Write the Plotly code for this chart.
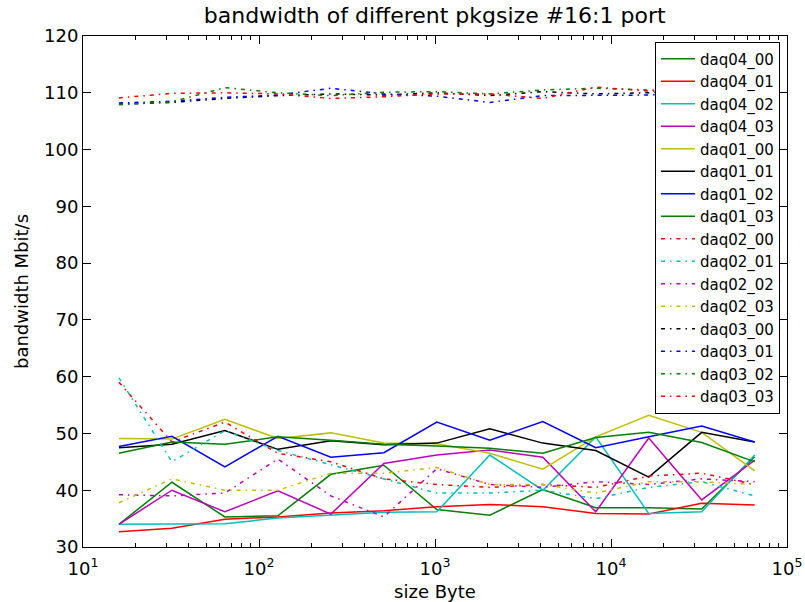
import plotly.graph_objects as go

sizes = [16, 32, 64, 128, 256, 512, 1024, 2048, 4096, 8192, 16384, 32768, 65536]

daq04_00 = [34.0, 41.4, 35.3, 35.5, 42.8, 44.4, 36.6, 35.6, 40.1, 36.9, 36.9, 36.7, 45.9]
daq04_01 = [32.7, 33.3, 34.9, 35.3, 36.0, 36.4, 37.1, 37.5, 37.1, 35.9, 35.8, 37.7, 37.4]
daq04_02 = [34.0, 34.0, 34.1, 35.1, 35.6, 36.1, 36.2, 46.2, 40.0, 49.4, 35.9, 36.2, 46.2]
daq04_03 = [34.0, 40.0, 36.2, 39.9, 35.8, 44.7, 46.2, 47.1, 45.8, 36.2, 49.2, 38.3, 45.3]
daq01_00 = [49.1, 49.0, 52.5, 49.1, 50.1, 48.3, 48.2, 46.5, 43.7, 49.4, 53.2, 50.2, 43.4]
daq01_01 = [47.5, 48.1, 50.5, 47.2, 48.7, 48.0, 48.3, 50.8, 48.3, 47.0, 42.3, 50.2, 48.5]
daq01_02 = [47.7, 49.5, 44.1, 49.5, 45.8, 46.6, 52.0, 48.8, 52.1, 47.5, 49.4, 51.3, 48.5]
daq01_03 = [46.5, 48.5, 48.1, 49.4, 48.8, 48.1, 47.8, 47.4, 46.5, 49.3, 50.2, 48.4, 45.0]
daq02_00 = [59.0, 48.5, 52.0, 46.5, 45.0, 42.0, 41.0, 40.5, 41.0, 40.5, 42.5, 43.0, 41.0]
daq02_01 = [59.8, 45.0, 50.5, 47.0, 44.5, 42.0, 39.5, 39.5, 40.0, 38.5, 40.5, 41.5, 39.0]
daq02_02 = [39.2, 39.0, 39.5, 45.5, 39.0, 35.3, 43.8, 41.0, 40.5, 41.5, 41.0, 42.0, 41.5]
daq02_03 = [37.8, 42.0, 40.0, 40.0, 43.0, 43.0, 44.0, 41.0, 41.0, 39.5, 41.5, 41.5, 41.0]
daq03_00 = [108.0, 108.3, 109.0, 109.5, 109.8, 109.6, 110.0, 109.5, 110.2, 109.8, 110.0, 110.3, 110.0]
daq03_01 = [108.2, 108.5, 109.2, 109.6, 110.8, 109.8, 109.4, 108.3, 109.5, 109.6, 109.6, 110.0, 109.8]
daq03_02 = [107.9, 108.4, 110.9, 110.0, 109.5, 110.1, 110.2, 109.8, 110.5, 110.8, 110.5, 110.2, 110.4]
daq03_03 = [109.1, 109.9, 110.0, 109.8, 109.0, 109.3, 109.8, 109.8, 109.0, 111.0, 110.3, 110.6, 110.5]

G, R, C, M, Y, K, B = "#008000", "#ff0000", "#00bfbf", "#bf00bf", "#bfbf00", "#000000", "#0000ff"

series = [
    ("daq04_00", daq04_00, G, "solid"),
    ("daq04_01", daq04_01, R, "solid"),
    ("daq04_02", daq04_02, C, "solid"),
    ("daq04_03", daq04_03, M, "solid"),
    ("daq01_00", daq01_00, Y, "solid"),
    ("daq01_01", daq01_01, K, "solid"),
    ("daq01_02", daq01_02, B, "solid"),
    ("daq01_03", daq01_03, G, "solid"),
    ("daq02_00", daq02_00, R, "dd"),
    ("daq02_01", daq02_01, C, "dd"),
    ("daq02_02", daq02_02, M, "dd"),
    ("daq02_03", daq02_03, Y, "dd"),
    ("daq03_00", daq03_00, K, "dd"),
    ("daq03_01", daq03_01, B, "dd"),
    ("daq03_02", daq03_02, G, "dd"),
    ("daq03_03", daq03_03, R, "dd"),
]

fig = go.Figure()
for name, vals, col, sty in series:
    dash = "solid" if sty == "solid" else "4px,5px,1.5px,5px"
    fig.add_trace(go.Scatter(x=sizes, y=vals, name=name, mode="lines",
                             line=dict(color=col, width=1.5, dash=dash)))

major = [10, 100, 1000, 10000, 100000]
minor_vals = [m * 10 ** e for e in range(1, 5) for m in range(2, 10)]

font = "DejaVu Sans, Arial, sans-serif"
fig.update_layout(
    width=805, height=602,
    margin=dict(l=83, r=18, t=36, b=55),
    paper_bgcolor="white", plot_bgcolor="white",
    font=dict(family=font, size=15, color="black"),
    title=dict(text="bandwidth of different pkgsize #16:1 port", x=0.54, xanchor="center",
               y=0.975, yanchor="middle", font=dict(size=22)),
    legend=dict(x=0.99, y=0.989, xanchor="right", yanchor="top",
                bordercolor="black", borderwidth=1, bgcolor="white",
                font=dict(size=15), tracegroupgap=0, itemwidth=34),
    showlegend=True,
)
fig.update_xaxes(type="log", range=[1, 5], tickvals=major,
                 ticktext=["10<sup>1</sup>", "10<sup>2</sup>", "10<sup>3</sup>", "10<sup>4</sup>", "10<sup>5</sup>"],
                 ticks="inside", ticklen=8, tickcolor="black",
                 showline=True, linecolor="black", linewidth=1, mirror="ticks",
                 showgrid=False, zeroline=False, ticklabelstandoff=5, automargin=False,
                 minor=dict(tickvals=minor_vals, ticks="inside", ticklen=4, tickcolor="black", showgrid=False),
                 title=dict(text="size Byte", font=dict(size=18)),
                 tickfont=dict(size=18))
fig.update_yaxes(range=[30, 120], dtick=10, tick0=30,
                 ticks="inside", ticklen=8, tickcolor="black",
                 showline=True, linecolor="black", linewidth=1, mirror="ticks",
                 showgrid=False, zeroline=False, automargin=True,
                 title=dict(text="bandwidth Mbit/s", standoff=10, font=dict(size=18)),
                 tickfont=dict(size=18))

fig.write_html("out.html")
